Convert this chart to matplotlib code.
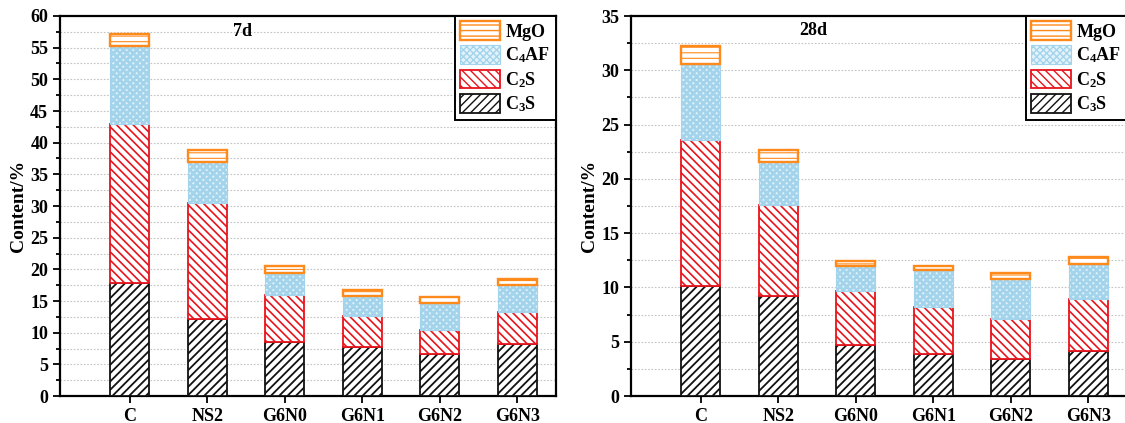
import matplotlib
matplotlib.use("Agg")
import matplotlib.pyplot as plt
from matplotlib.patches import Patch
from matplotlib.ticker import MultipleLocator
import numpy as np

# --- data -------------------------------------------------------------- #
samples = ["C", "NS2", "G6N0", "G6N1", "G6N2", "G6N3"]

c3s_7d = [17.8, 12.2, 8.6, 7.8, 6.7, 8.2]
c2s_7d = [25.1, 18.2, 7.4, 4.9, 3.8, 5.1]
c4af_7d = [12.3, 6.5, 3.5, 3.1, 4.2, 4.2]
mgo_7d = [1.9, 1.9, 1.0, 0.9, 1.0, 1.0]

c3s_28d = [10.1, 9.2, 4.7, 3.9, 3.4, 4.1]
c2s_28d = [13.5, 8.4, 5.0, 4.3, 3.7, 4.8]
c4af_28d = [7.0, 3.95, 2.3, 3.4, 3.65, 3.3]
mgo_28d = [1.6, 1.1, 0.4, 0.4, 0.6, 0.6]

plt.rcParams.update({
    "font.family": "serif",
    "font.serif": ["Liberation Serif", "DejaVu Serif"],
    "font.weight": "bold",
    "mathtext.fontset": "custom",
    "mathtext.rm": "Liberation Serif:bold",
    "mathtext.it": "Liberation Serif:bold",
    "mathtext.bf": "Liberation Serif:bold",
})

STYLES = [
    # label, face, edge, hatch, edge lw, hatch lw
    (r"C$_3$S", "white", "#111111", "////", 1.3, 1.3),
    (r"C$_2$S", "white", "#e8141c", "\\\\\\\\", 1.3, 1.2),
    (r"C$_4$AF", "#e4f3fa", "#a3d4ec", "xxxxx", 0.8, 2.0),
    ("MgO", "white", "#ff8a1c", "---", 1.7, 0.8),
]


def panel(ax, layers, ymax, title, title_y):
    x = np.arange(1, len(samples) + 1)
    bottom = np.zeros(len(samples))
    for (lab, fc, ec, h, lw, hlw), vals in zip(STYLES, layers):
        with plt.rc_context({"hatch.linewidth": hlw}):
            ax.bar(x, vals, 0.5, bottom=bottom, facecolor=fc, edgecolor=ec,
                   hatch=h, linewidth=lw, zorder=3)
        bottom += np.array(vals)
    ax.set_xlim(0.1, 6.5)
    ax.set_ylim(0, ymax)
    ax.set_xticks(x)
    ax.set_xticklabels(samples, fontsize=13, fontweight="bold")
    ax.yaxis.set_major_locator(MultipleLocator(5))
    ax.yaxis.set_minor_locator(MultipleLocator(2.5))
    ax.tick_params(axis="y", which="major", direction="out", length=5,
                   width=1.3, labelsize=13, right=False)
    ax.tick_params(axis="y", which="minor", direction="out", length=3, width=1.3)
    ax.tick_params(axis="x", direction="out", length=5, width=1.3, top=False)
    for lab in ax.get_yticklabels():
        lab.set_fontweight("bold")
    ax.grid(axis="y", which="both", linestyle=(0, (1.5, 1.5)), color="#c4c4c4",
            linewidth=0.8, zorder=0)
    ax.set_axisbelow(True)
    for sp in ax.spines.values():
        sp.set_linewidth(1.6)
    ax.set_ylabel("Content/%", fontsize=14, fontweight="bold", labelpad=2)
    ax.text(2.45, title_y, title, fontsize=13, fontweight="bold",
            ha="center", va="center")
    handles = []
    for lab, fc, ec, h, lw, hlw in STYLES[::-1]:
        with plt.rc_context({"hatch.linewidth": hlw}):
            handles.append(Patch(facecolor=fc, edgecolor=ec, hatch=h,
                                 linewidth=lw, label=lab))
    leg = ax.legend(handles=handles, loc="upper right", borderaxespad=0,
                    fontsize=13, handlelength=2.2, handleheight=1.2,
                    labelspacing=0.25, handletextpad=0.3, borderpad=0.3,
                    fancybox=False, framealpha=1, edgecolor="black")
    leg.get_frame().set_linewidth(1.4)
    for t in leg.get_texts():
        t.set_fontweight("bold")


fig = plt.figure(figsize=(11.25, 4.23), dpi=100)
ax1 = fig.add_axes([60 / 1125, 27 / 423, 496 / 1125, 380 / 423])
ax2 = fig.add_axes([631 / 1125, 27 / 423, 496 / 1125, 380 / 423])

panel(ax1, [c3s_7d, c2s_7d, c4af_7d, mgo_7d], 60, "7d", 57.5)
panel(ax2, [c3s_28d, c2s_28d, c4af_28d, mgo_28d], 35, "28d", 33.7)

fig.savefig("out.png", dpi=100)
